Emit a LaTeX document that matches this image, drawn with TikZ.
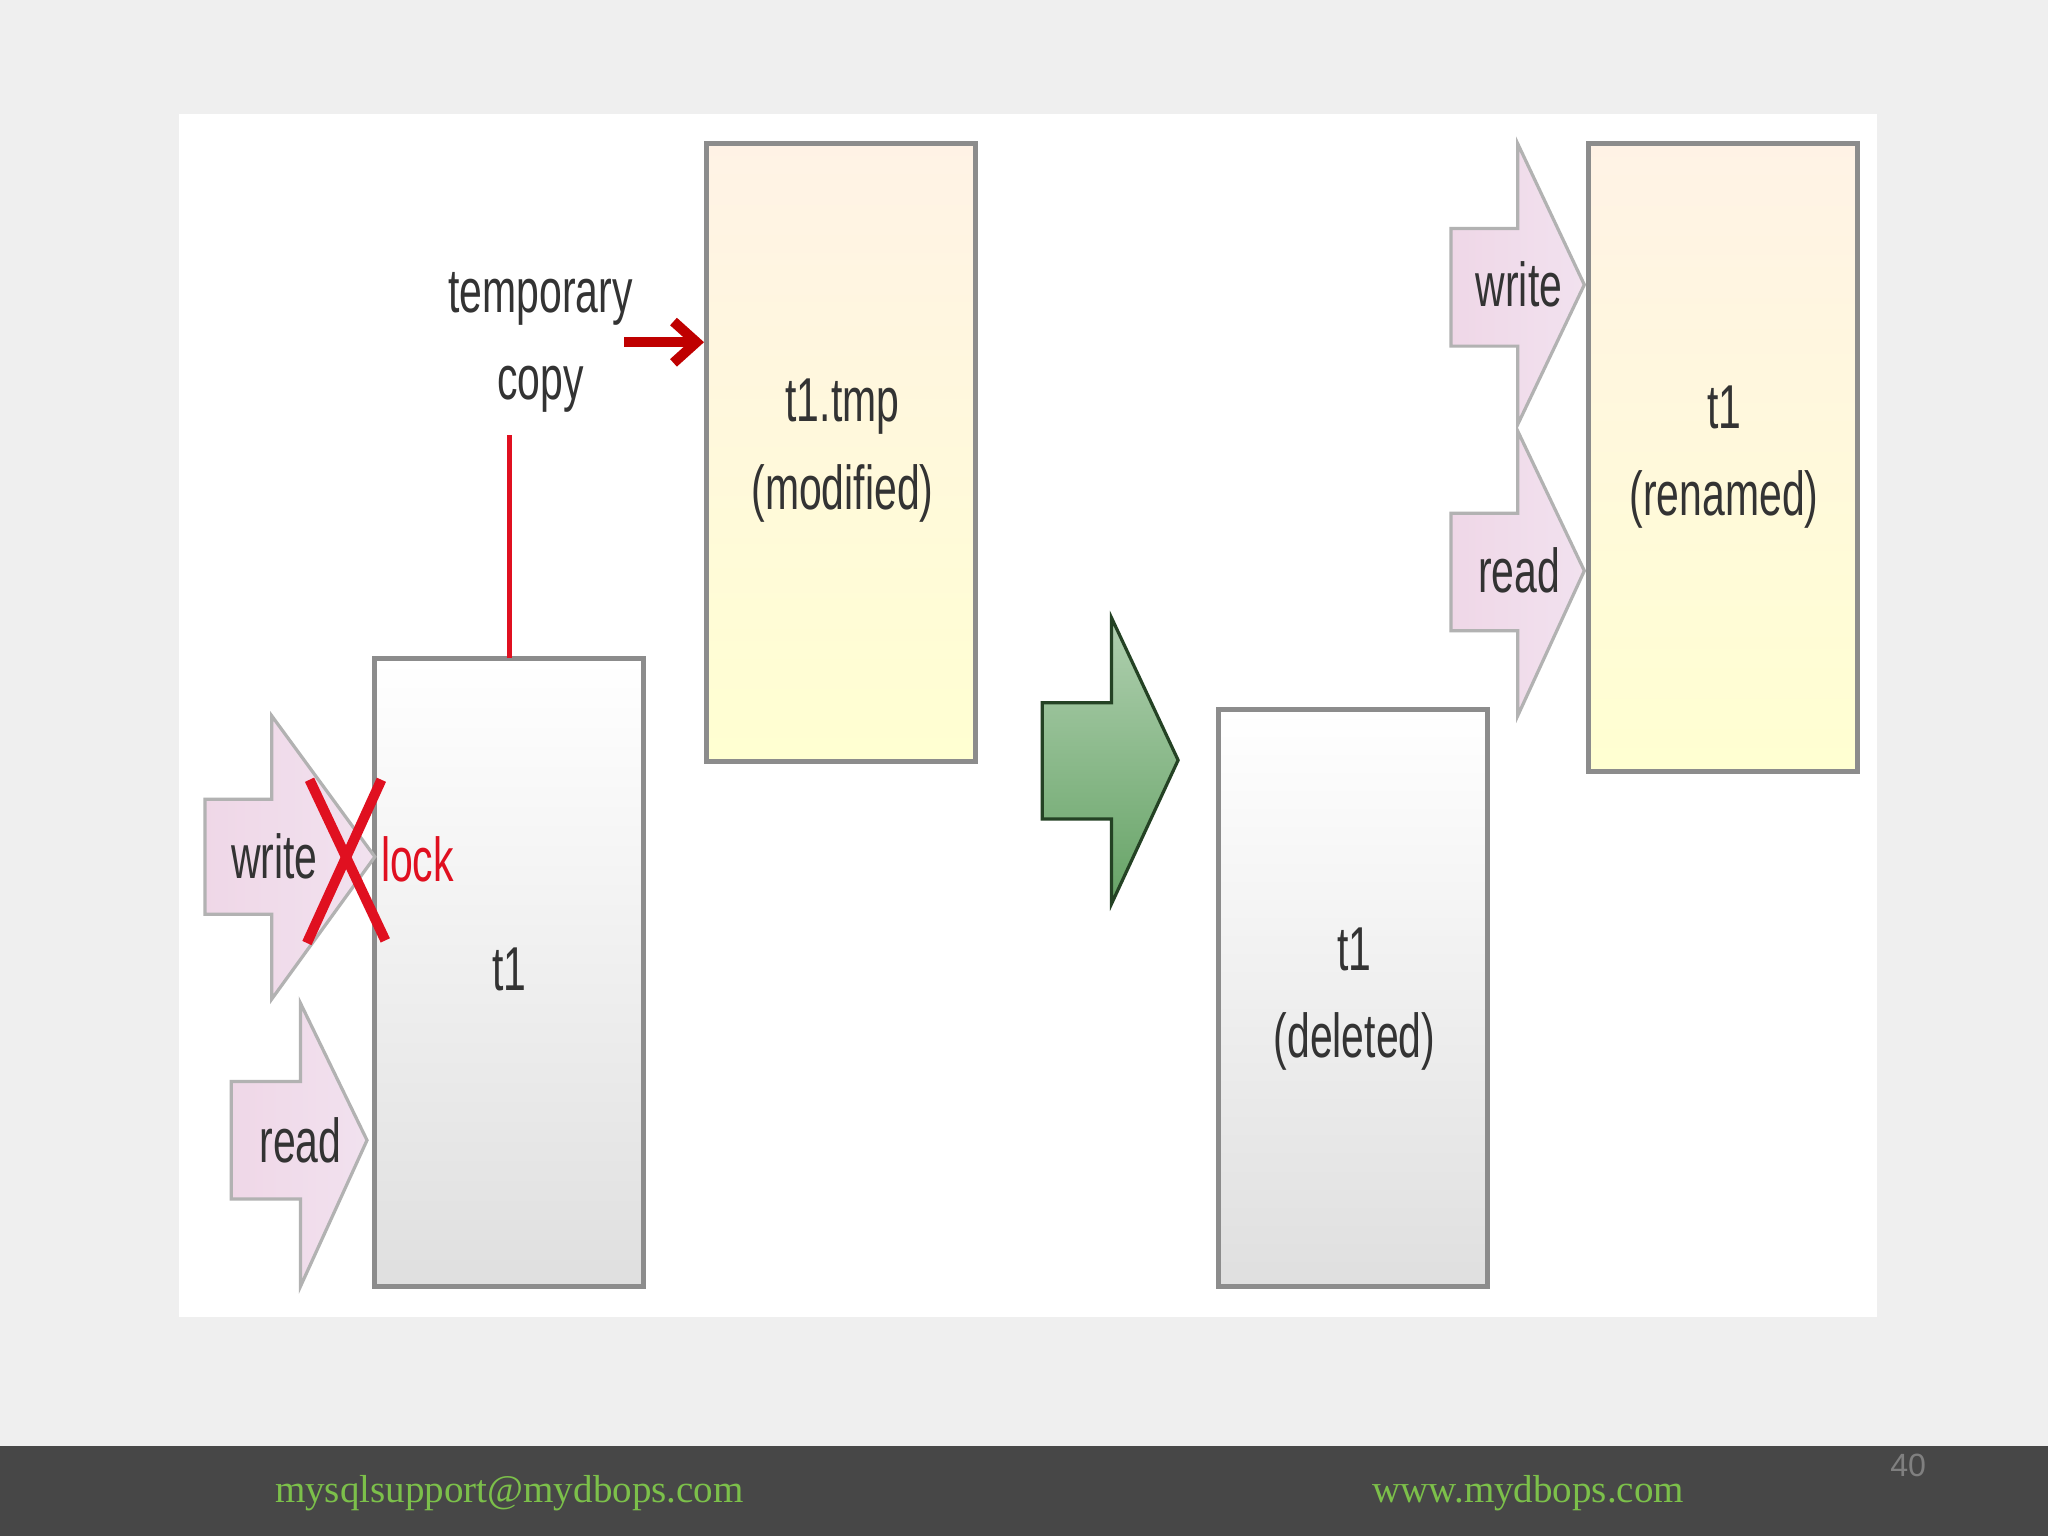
\documentclass[tikz,border=0pt]{standalone}
\usepackage{fontspec}
\setmainfont{Liberation Sans}
\newfontfamily\footfont{Liberation Serif}
\usetikzlibrary{arrows.meta}
\definecolor{bg}{HTML}{EFEFEF}
\definecolor{foot}{HTML}{474747}
\definecolor{footgreen}{HTML}{7CC04A}
\definecolor{lockred}{HTML}{E01020}
\tikzset{
  graybox/.style={draw=gray!90,line width=1.1pt,top color=white,bottom color=gray!25},
  yellowbox/.style={draw=gray!90,line width=1.1pt,top color=orange!10,bottom color=yellow!18},
  pinkarrow/.style={draw=gray!60,line width=0.7pt,left color=pink!50!violet!25,right color=pink!30!violet!15},
  greenarrow/.style={draw=gray!70!green!40!black,line width=0.7pt,top color=green!25!gray!50,bottom color=green!40!black!60},
  lbl/.style={align=center,font=\fontsize{13.5}{19}\selectfont,text=black!80},
}
\newcommand{\narrow}[1]{\scalebox{0.66}[1]{#1}}
\begin{document}
\begin{tikzpicture}[x=0.01cm,y=-0.01cm]
\fill[bg] (0,0) rectangle (1568,1176);
\fill[white] (137,87) rectangle (1437,1008);
\fill[foot] (0,1107) rectangle (1568,1176);
\node[text=footgreen,font=\footfont\fontsize{8.5}{10}\selectfont] (mail) at (390,1143) {mysqlsupport@mydbops.com};
\node[text=footgreen,font=\footfont\fontsize{8.5}{10}\selectfont] (web) at (1170,1143) {www.mydbops.com};
\node[text=gray,font=\fontsize{7}{9}\selectfont] (pg) at (1461,1122) {40};
% boxes
\draw[graybox] (287,504) rectangle (493,985);
\node[lbl] (t1) at (390,742) {\narrow{t1}};
\draw[yellowbox] (541,110) rectangle (747,583);
\node[lbl] (tmp) at (645,345) {\narrow{t1.tmp}\\\narrow{(modified)}};
\draw[graybox] (933,543) rectangle (1139,985);
\node[lbl] (del) at (1037,765) {\narrow{t1}\\\narrow{(deleted)}};
\draw[yellowbox] (1216,110) rectangle (1422,591);
\node[lbl] (ren) at (1320,350) {\narrow{t1}\\\narrow{(renamed)}};
% pink arrows
\draw[pinkarrow] (157,612) -- (208,612) -- (208,548) -- (287,656) -- (208,765) -- (208,700) -- (157,700) -- cycle;
\node[lbl] (w1) at (210,656) {\narrow{write}};
\draw[pinkarrow] (177,828) -- (230,828) -- (230,768) -- (281,873) -- (230,985) -- (230,918) -- (177,918) -- cycle;
\node[lbl] (r1) at (230,873) {\narrow{read}};
\draw[pinkarrow] (1111,175) -- (1162,175) -- (1162,110) -- (1213,218) -- (1162,325) -- (1162,265) -- (1111,265) -- cycle;
\node[lbl] (w2) at (1163,218) {\narrow{write}};
\draw[pinkarrow] (1111,393) -- (1162,393) -- (1162,330) -- (1213,437) -- (1162,548) -- (1162,483) -- (1111,483) -- cycle;
\node[lbl] (r2) at (1163,437) {\narrow{read}};
% green arrow
\draw[greenarrow] (798,538) -- (851,538) -- (851,473) -- (902,582) -- (851,692) -- (851,627) -- (798,627) -- cycle;
% lock X
\draw[lockred,line width=2.2pt] (237,597) -- (295,720);
\draw[lockred,line width=2.2pt] (292,597) -- (235,722);
\node[lbl,text=lockred,anchor=west,inner sep=0pt] (lock) at (291,658) {\narrow{lock}};
% temporary copy
\node[lbl] (tc) at (414,262) {\narrow{temporary}\\\narrow{copy}};
\coordinate (c1) at (390,504);
\coordinate (c2) at (390,333);
\draw[lockred,line width=1.2pt] (c1) -- (c2);
\coordinate (a1) at (478,262);
\coordinate (a2) at (539,262);
\draw[red!75!black,line width=2.2pt,-{Straight Barb[length=5pt,width=9pt]}] (a1) -- (a2);
\end{tikzpicture}
\end{document}
